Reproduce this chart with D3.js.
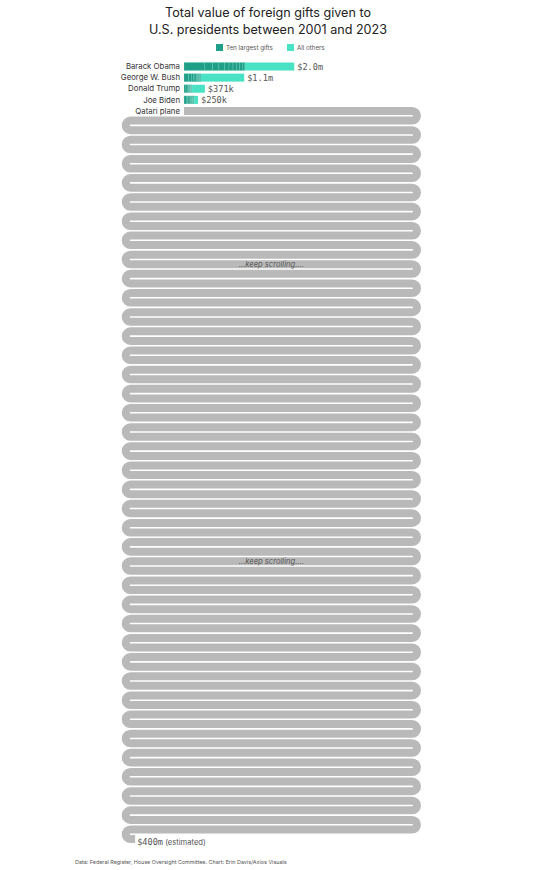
<!DOCTYPE html>
<html lang="en">
<head>
  <meta charset="utf-8" />
  <title>Foreign gifts to U.S. presidents</title>
  <script src="https://cdn.jsdelivr.net/npm/d3@7"></script>
  <style>
    body { margin: 0; background: #fff; }
    svg { display: block; }
  </style>
</head>
<body>
  <div id="chart"></div>
  <script>
    // data
    const presidents = ["Barack Obama", "George W. Bush", "Donald Trump", "Joe Biden"];
    const totals = [1.96e6, 1.07e6, 371e3, 250e3];
    // ten largest gifts per president (estimated from the bar stripes)
    const tenLargest = [
      [360e3, 150e3, 110e3, 100e3, 80e3, 70e3, 60e3, 55e3, 50e3, 45e3],
      [80e3, 50e3, 35e3, 30e3, 25e3, 22e3, 18e3, 15e3, 12e3, 10e3],
      [35e3, 22e3, 18e3, 14e3, 12e3, 11e3, 9e3, 8e3, 7e3, 6e3],
      [40e3, 28e3, 22e3, 18e3, 15e3, 13e3, 12e3, 11e3, 10e3, 9e3]
    ];
    const planeLabel = "Qatari plane";
    const planeValue = 400e6;
    const legendLabels = ["Ten largest gifts", "All others"];
    const scrollRows = [16, 47];

    const width = 538, height = 870;
    const darkTeal = "#1f9f87", lightTeal = "#4ae2c4", grey = "#b9b9b9";
    const barH = 8;
    const x0 = 184;             // start of every bar
    const xL = 130.5, xR = 412.2; // straight part of the snake rows
    const r = 4.79;              // half the gap between snake rows

    // pixels per dollar
    const x = d3.scaleLinear().domain([0, 1e6]).range([0, 56.26]);
    const y = d3.scalePoint().domain([...presidents, planeLabel]).range([66.5, 111]);

    const fmt = v => v >= 1e7 ? "$" + Math.round(v / 1e6) + "m"
      : v >= 1e6 ? "$" + (v / 1e6).toFixed(1) + "m"
      : "$" + Math.round(v / 1e3) + "k";

    const svg = d3.select("#chart").append("svg")
      .attr("width", width).attr("height", height)
      .attr("viewBox", [0, 0, width, height])
      .style("font-family", "Inter, 'Noto Sans', sans-serif");

    // title
    svg.append("text")
      .attr("text-anchor", "middle").attr("fill", "#222")
      .style("font-size", "12.6px")
      .selectAll("tspan")
      .data(["Total value of foreign gifts given to", "U.S. presidents between 2001 and 2023"])
      .join("tspan")
      .attr("x", 268).attr("y", (d, i) => 17 + i * 17)
      .text(d => d);

    // legend
    const legend = svg.append("g").style("font-size", "6.2px");
    legend.selectAll("rect").data([darkTeal, lightTeal]).join("rect")
      .attr("x", (d, i) => i ? 287 : 216).attr("y", 44).attr("width", 7).attr("height", 7)
      .attr("fill", d => d);
    legend.selectAll("text").data(legendLabels).join("text")
      .attr("x", (d, i) => i ? 297 : 226).attr("y", 49.8).attr("fill", "#555")
      .text(d => d);

    // name labels
    svg.append("g")
      .style("font-size", "7.8px").attr("fill", "#333")
      .selectAll("text").data(y.domain()).join("text")
      .attr("x", 180).attr("y", d => y(d)).attr("dy", "0.35em")
      .attr("text-anchor", "end")
      .text(d => d);

    // president bars
    const rows = svg.append("g").selectAll("g")
      .data(presidents.map((p, i) => ({ name: p, total: totals[i], gifts: tenLargest[i] })))
      .join("g")
      .attr("transform", d => `translate(${x0},${y(d.name) - barH / 2})`);

    rows.append("rect")
      .attr("width", d => x(d.total)).attr("height", barH)
      .attr("fill", lightTeal);

    rows.selectAll(".gift")
      .data(d => {
        let acc = 0;
        return d.gifts.map(v => { const s = acc; acc += v; return { s, v }; });
      })
      .join("rect")
      .attr("class", "gift")
      .attr("x", d => x(d.s)).attr("width", d => x(d.v)).attr("height", barH)
      .attr("fill", darkTeal)
      .attr("stroke", "#fff").attr("stroke-opacity", 0.3).attr("stroke-width", 0.5);

    rows.append("text")
      .attr("x", d => x(d.total) + 3).attr("y", barH / 2).attr("dy", "0.36em")
      .style("font-family", "'DejaVu Sans Mono', monospace").style("font-size", "8.6px")
      .attr("fill", "#555")
      .text(d => fmt(d.total));

    // the plane: one long bar folded into a snake
    function snake(len, yStart) {
      const p = d3.path();
      let yy = yStart, rest = len, dir = 1, end;
      p.moveTo(x0, yy);
      const first = xR - x0;
      if (rest <= first) { p.lineTo(x0 + rest, yy); return { d: p.toString(), end: [x0 + rest, yy] }; }
      p.lineTo(xR, yy); rest -= first;
      const turn = Math.PI * r, row = xR - xL;
      while (true) {
        if (dir > 0) p.arc(xR, yy + r, r, -Math.PI / 2, Math.PI / 2, false);
        else p.arc(xL, yy + r, r, -Math.PI / 2, -3 * Math.PI / 2, true);
        rest -= turn; yy += 2 * r; dir = -dir;
        if (rest <= row) {
          const xe = dir > 0 ? xL + rest : xR - rest;
          p.lineTo(xe, yy); end = [xe, yy];
          break;
        }
        p.lineTo(dir > 0 ? xR : xL, yy); rest -= row;
      }
      return { d: p.toString(), end };
    }

    const plane = snake(x(planeValue), y(planeLabel));
    svg.append("path")
      .attr("d", plane.d)
      .attr("fill", "none").attr("stroke", grey)
      .attr("stroke-width", barH).attr("stroke-linejoin", "round");

    svg.append("text")
      .attr("x", plane.end[0] + 2).attr("y", plane.end[1]).attr("dy", "0.36em")
      .call(t => t.append("tspan")
        .style("font-family", "'DejaVu Sans Mono', monospace").style("font-size", "8.6px")
        .attr("fill", "#555").text(fmt(planeValue)))
      .call(t => t.append("tspan")
        .style("font-size", "7.6px").attr("fill", "#555").text(" (estimated)"));

    svg.append("g")
      .selectAll("text").data(scrollRows).join("text")
      .attr("x", (xL + xR) / 2).attr("y", d => y(planeLabel) + d * 2 * r).attr("dy", "0.35em")
      .attr("text-anchor", "middle")
      .style("font-size", "7.6px").style("font-style", "italic").attr("fill", "#555")
      .text("...keep scrolling....");

    // source
    svg.append("text")
      .attr("x", 75).attr("y", 864)
      .style("font-size", "5.4px").attr("fill", "#555")
      .text("Data: Federal Register, House Oversight Committee. Chart: Erin Davis/Axios Visuals");
  </script>
</body>
</html>
